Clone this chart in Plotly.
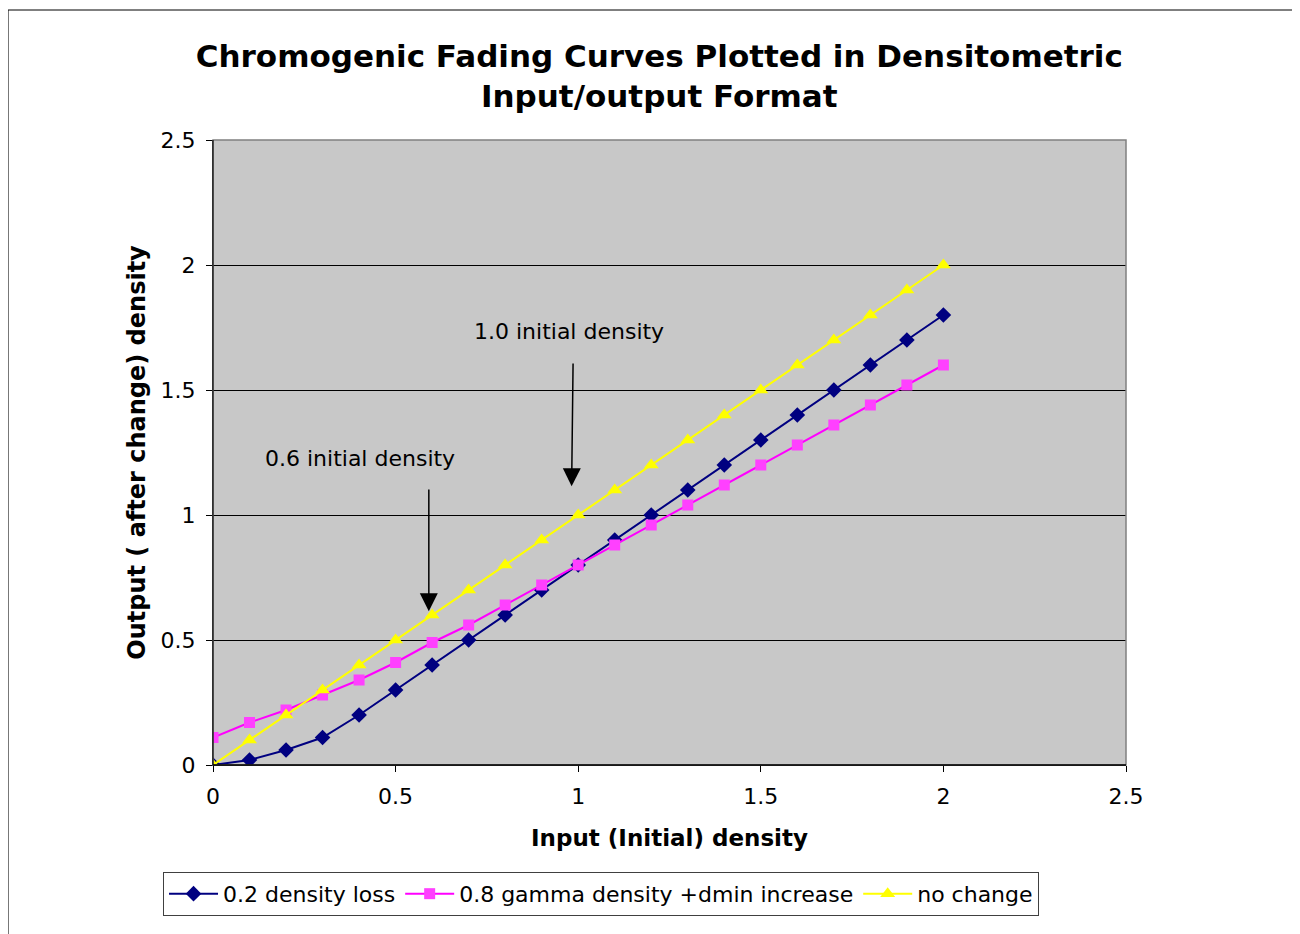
import plotly.graph_objects as go

x_input = [0, 0.1, 0.2, 0.3, 0.4, 0.5, 0.6, 0.7, 0.8, 0.9, 1.0, 1.1, 1.2, 1.3, 1.4, 1.5, 1.6, 1.7, 1.8, 1.9, 2.0]
density_loss = [0, 0.02, 0.06, 0.11, 0.2, 0.3, 0.4, 0.5, 0.6, 0.7, 0.8, 0.9, 1.0, 1.1, 1.2, 1.3, 1.4, 1.5, 1.6, 1.7, 1.8]
gamma_dmin = [0.11, 0.17, 0.22, 0.28, 0.34, 0.41, 0.49, 0.56, 0.64, 0.72, 0.8, 0.88, 0.96, 1.04, 1.12, 1.2, 1.28, 1.36, 1.44, 1.52, 1.6]
no_change = [0, 0.1, 0.2, 0.3, 0.4, 0.5, 0.6, 0.7, 0.8, 0.9, 1.0, 1.1, 1.2, 1.3, 1.4, 1.5, 1.6, 1.7, 1.8, 1.9, 2.0]

names = ["0.2 density loss", "0.8 gamma density +dmin increase", "no change"]
tick_vals = [0, 0.5, 1, 1.5, 2, 2.5]
tick_text = ["0", "0.5", "1", "1.5", "2", "2.5"]

FONT = "DejaVu Sans"

fig = go.Figure()
fig.add_trace(go.Scatter(x=x_input, y=density_loss, name=names[0], mode="lines+markers",
                         line=dict(color="#000080", width=2),
                         marker=dict(symbol="diamond", size=12, color="#000080")))
fig.add_trace(go.Scatter(x=x_input, y=gamma_dmin, name=names[1], mode="lines+markers",
                         line=dict(color="#FF00FF", width=2),
                         marker=dict(symbol="square", size=11, color="#FF40FF")))
fig.add_trace(go.Scatter(x=x_input, y=no_change, name=names[2], mode="lines+markers",
                         line=dict(color="#FFFF00", width=2),
                         marker=dict(symbol="triangle-up", size=13, color="#FFFF00")))

annotations = [
    dict(x=0.591, y=0.615, ax=0.591, ay=1.108, xref="x", yref="y", axref="x", ayref="y",
         showarrow=True, arrowhead=2, arrowsize=2.4, arrowwidth=1.5, arrowcolor="black", text=""),
    dict(x=0.982, y=1.115, ax=0.986, ay=1.612, xref="x", yref="y", axref="x", ayref="y",
         showarrow=True, arrowhead=2, arrowsize=2.4, arrowwidth=1.5, arrowcolor="black", text=""),
    dict(x=0.402, y=1.228, xref="x", yref="y", showarrow=False, text="0.6 initial density",
         font=dict(family=FONT, size=22, color="black")),
    dict(x=0.975, y=1.736, xref="x", yref="y", showarrow=False, text="1.0 initial density",
         font=dict(family=FONT, size=22, color="black")),
]

fig.update_layout(
    width=1300, height=934,
    margin=dict(l=205, r=182, t=132, b=177),
    paper_bgcolor="white",
    plot_bgcolor="#C8C8C8",
    font=dict(family=FONT, size=22, color="black"),
    title=dict(text="<b>Chromogenic Fading Curves Plotted in Densitometric<br>Input/output Format</b>",
               x=0.501, xanchor="center", y=0.937, yanchor="middle",
               font=dict(family=FONT, size=31, color="black")),
    xaxis=dict(range=[0, 2.5], tickvals=tick_vals, ticktext=tick_text, showgrid=False,
               zeroline=False, showline=True, linecolor="black", linewidth=1,
               ticks="outside", ticklen=6, tickcolor="black", ticklabelstandoff=6,
               tickfont=dict(family=FONT, size=22),
               title=dict(text="<b>Input (Initial) density</b>", font=dict(family=FONT, size=23), standoff=21)),
    yaxis=dict(range=[0, 2.5], tickvals=tick_vals, ticktext=tick_text, showgrid=True,
               gridcolor="black", gridwidth=1, zeroline=False, showline=True,
               linecolor="black", linewidth=1, ticks="outside", ticklen=6, tickcolor="black",
               ticklabelstandoff=6, tickfont=dict(family=FONT, size=22),
               title=dict(text="<b>Output ( after change) density</b>", font=dict(family=FONT, size=24), standoff=8)),
    legend=dict(orientation="h", x=0.425, xanchor="center", y=-0.171, yanchor="top",
                bordercolor="#404040", borderwidth=1, bgcolor="white",
                font=dict(family=FONT, size=22), itemwidth=49, tracegroupgap=0),
    annotations=annotations,
    shapes=[
        dict(type="rect", xref="paper", yref="paper", x0=0, x1=1, y0=0, y1=1,
             line=dict(color="#808080", width=1.5), fillcolor="rgba(0,0,0,0)", layer="above"),
        dict(type="line", xref="paper", yref="paper", x0=0, x1=0, y0=0, y1=1,
             line=dict(color="black", width=1), layer="above"),
        dict(type="line", xref="paper", yref="paper", x0=0, x1=1, y0=0, y1=0,
             line=dict(color="black", width=1.5), layer="above"),
        dict(type="rect", xref="paper", yref="paper", x0=-0.2245, x1=1.2, y0=-0.29, y1=1.208,
             line=dict(color="black", width=1), fillcolor="rgba(0,0,0,0)"),
    ],
)

fig.write_html("out.html")
